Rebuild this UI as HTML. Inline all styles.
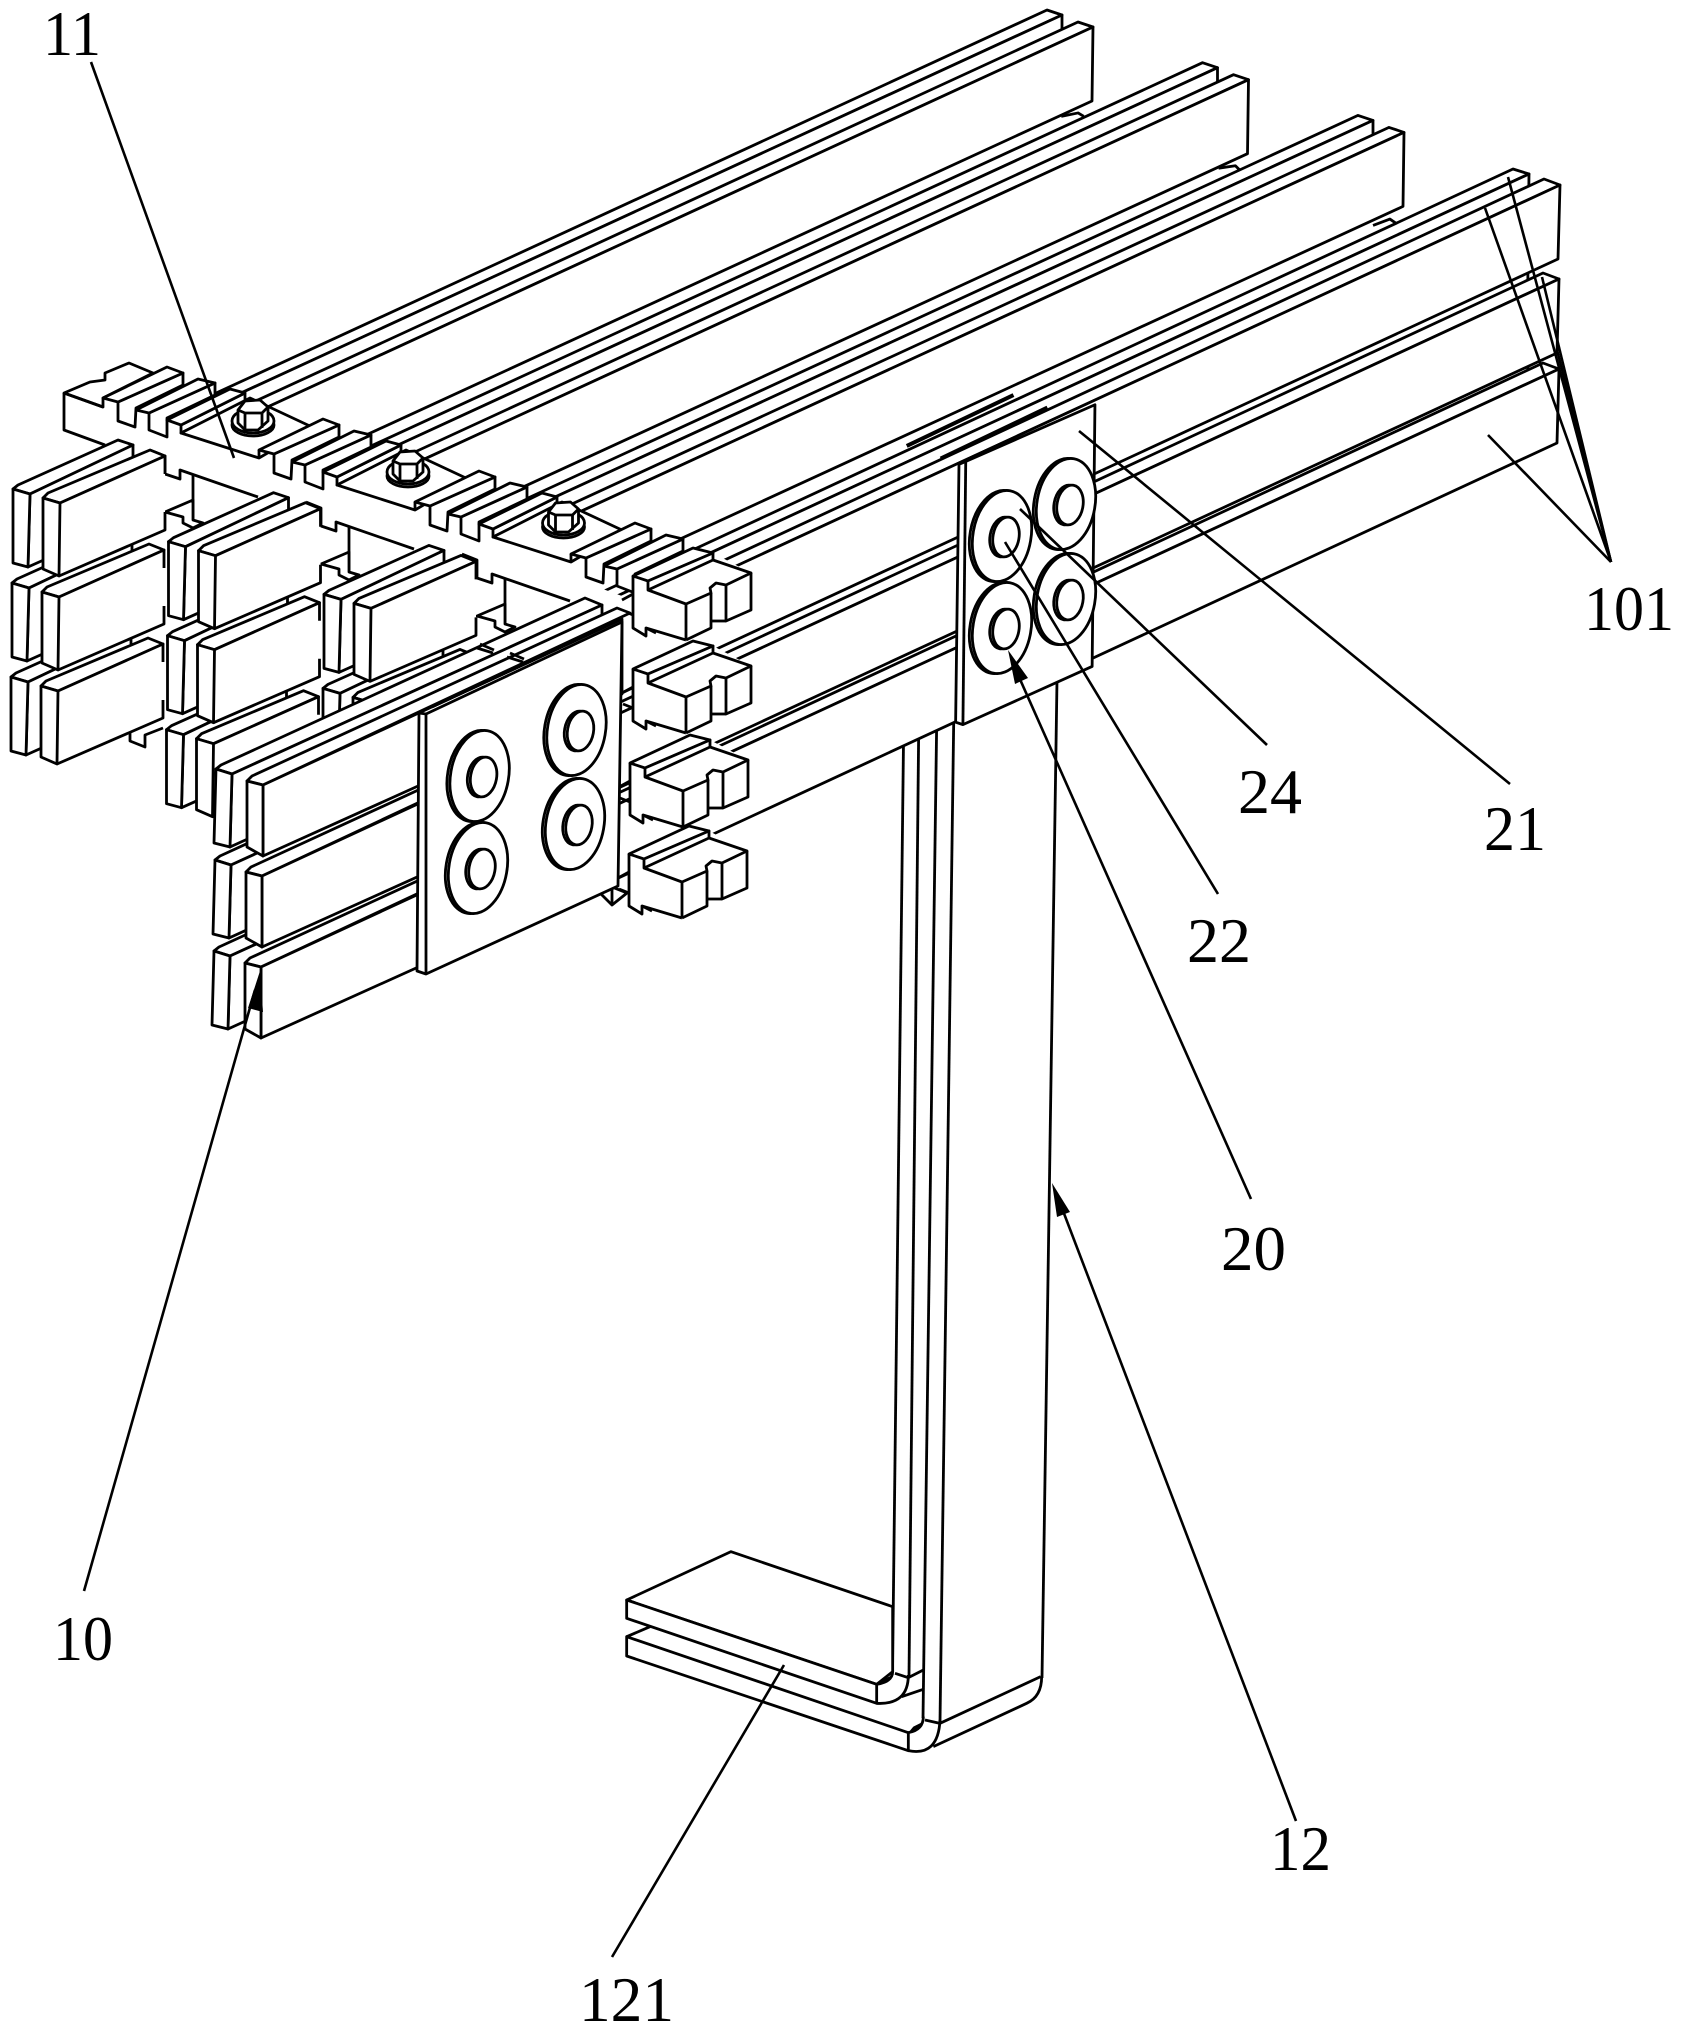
<!DOCTYPE html>
<html><head><meta charset="utf-8"><style>
html,body{margin:0;padding:0;background:#fff}
svg{display:block}
svg *{vector-effect:non-scaling-stroke}
.d{fill:#fff;stroke:#000;stroke-width:2.8;stroke-linejoin:round}
.n{fill:none;stroke:#000;stroke-width:2.8;stroke-linejoin:round}
.l{fill:none;stroke:#000;stroke-width:2.6}
.f{fill:#fff;stroke:none}
text{font-family:"Liberation Serif",serif;font-size:64px;fill:#000}
</style></head><body>
<svg width="1681" height="2030" viewBox="0 0 1681 2030" xmlns="http://www.w3.org/2000/svg">
<defs>
<g id="long">
<polygon class="d" points="188,406 1047,10 1062,15 202,411"/>
<polygon class="d" points="202,411 1062,15 1062,89 295,443"/>
<polygon class="d" points="221,417 1078,22 1093,27 235,422"/>
<polygon class="d" points="235,422 1093,27 1092,101 327,453"/>
</g>
<g id="g4r">
<polygon class="d" points="600,593 1513,169 1529,174 600,604"/>
<polygon class="d" points="600,604 1529,174 1528,248 600,678"/>
<polygon class="d" points="600,618 1544,179 1560,185 600,629"/>
<polygon class="d" points="600,629 1560,185 1558,259 600,703"/>
</g>
<g id="g4l">
<polygon class="d" points="216,769 221,765 585,598 602,605 232,774"/>
<polygon class="d" points="232,774 602,605 602,678 230,847"/>
<polygon class="d" points="216,769 232,774 230,847 214,843"/>
<polygon class="d" points="247,781 252,776 617,608 630,613 263,785"/>
<polygon class="d" points="263,785 622,619 622,694 263,856"/>
<polygon class="d" points="247,781 263,785 263,856 247,847"/>
</g>
<g id="stub">
<polygon class="d" points="13,489 18,485 118,440 133,445 30,494"/>
<polygon class="d" points="30,494 133,445 133,520 28,567"/>
<polygon class="d" points="13,489 30,494 28,567 13,563"/>
<polygon class="d" points="43,498 48,493 150,450 165,456 60,503"/>
<polygon class="f" points="60,503 165,456 165,530 59,576"/>
<polyline class="n" points="60,503 165,456 165,474"/>
<polyline class="n" points="59,576 165,530 165,512"/>
<polygon class="d" points="43,498 60,503 59,576 43,569"/>
</g>
<g id="stubs">
<use href="#stub" transform="translate(-2,188)"/>
<use href="#stub" transform="translate(-1,94)"/>
<use href="#stub"/>
</g>
<g id="ribs">
<polygon class="d" points="118,402 183,373 183,385 136,408 135,427 118,421"/>
<polygon class="d" points="103,398 167,367 183,373 118,402"/>
<polygon class="d" points="149,413 215,383 215,395 167,418 167,437 149,430"/>
<polygon class="d" points="136,410 198,379 215,383 149,413"/>
</g>
<g id="mod">
<use href="#ribs"/>
<polygon class="d" points="181,425 245,393 245,402 181,433"/>
<polygon class="d" points="167,420 230,389 245,393 181,425"/>
<polygon class="d" points="181,433 250,398 312,427 259,458"/>
<polyline class="n" points="259,458 259,450"/>
</g>
<g id="front">
<polyline class="n" points="150,450 165,456 165,474 180,479 180,470 258,497"/>
<line class="n" x1="193" y1="475" x2="193" y2="520"/>
<polygon class="d" points="165,512 193,500 193,520 203,523 193,528 183,523 183,517"/>
</g>
<g id="plug">
<polygon class="f" points="630,763 690,735 710,740 748,760 748,797 723,808 708,815 683,827 643,815 643,823 630,815"/>
<polygon class="d" points="630,763 690,735 710,740 645,768"/>
<polygon class="d" points="645,768 710,740 710,747 645,777"/>
<polyline class="n" points="630,763 630,815 643,823 643,815 683,827"/>
<polyline class="n" points="643,815 653,820"/>
<polyline class="n" points="645,777 683,791 708,780 707,775 713,770 723,772 748,760 710,747"/>
<line class="n" x1="683" y1="791" x2="683" y2="827"/>
<polyline class="n" points="683,827 708,815 708,780"/>
<polyline class="n" points="723,772 723,808 748,797 748,760"/>
<line class="n" x1="708" y1="808" x2="723" y2="808"/>
<polyline class="n" points="619,787 630,781"/>
<polyline class="n" points="620,798 630,802"/>
</g>
<g id="bolt">
<ellipse class="d" cx="253" cy="425" rx="21" ry="11"/>
<ellipse class="d" cx="253" cy="421" rx="21" ry="12"/>
<polygon class="d" points="238,410 245,401 260,400 268,407 268,421 258,430 245,430 238,423"/>
<polyline class="n" points="238,410 245,413 262,413 268,407"/>
<line class="n" x1="245" y1="413" x2="245" y2="430"/>
<line class="n" x1="262" y1="413" x2="262" y2="428"/>
</g>
<g id="washer">
<ellipse class="d" cx="-2" cy="0" rx="29" ry="46" transform="rotate(10 -2 0)"/>
<ellipse class="d" cx="1" cy="0" rx="29" ry="46" transform="rotate(10 1 0)"/>
<ellipse class="d" cx="2" cy="1" rx="13" ry="20" transform="rotate(10 2 1)"/>
<ellipse class="d" cx="5" cy="1" rx="13" ry="20" transform="rotate(10 5 1)"/>
</g>
<clipPath id="cl"><rect x="0" y="0" width="618" height="2030"/></clipPath>
</defs>

<rect width="1681" height="2030" fill="#fff"/>

<!-- long bars -->
<use href="#long"/>
<g transform="translate(800,0) scale(.5618,.4847)"><polyline class="n" points="465,240 495,233 505,240"/></g>
<use href="#long" transform="translate(155.5,52.7)"/>
<g transform="translate(800,0) scale(.5618,.4847)"><polyline class="n" points="745,347 775,342 782,350"/></g>
<use href="#long" transform="translate(311,105.4)"/>
<g transform="translate(800,0) scale(.5618,.4847)"><polyline class="n" points="1020,465 1050,452 1060,460"/></g>

<!-- hanger -->
<polygon class="f" points="904,680 1057,680 1042,1677 892,1670"/>
<line class="n" x1="904" y1="700" x2="892.5" y2="1672"/>
<line class="n" x1="919" y1="700" x2="909" y2="1676"/>
<line class="n" x1="937" y1="700" x2="923" y2="1718"/>
<line class="n" x1="954" y1="700" x2="940" y2="1722"/>
<line class="n" x1="1057" y1="680" x2="1042" y2="1678"/>
<g transform="translate(580,1500) scale(.33333)">
<polygon class="d" points="140,300 453,155 938,320 938,515 890,553"/>
<polygon class="d" points="140,300 890,553 890,610 140,355"/>
<path class="n" d="M890,553 Q938,545 938,515"/>
<path class="n" d="M890,610 Q985,615 985,525"/>
<polyline class="n" points="945,520 985,533 1030,510"/>
<line class="n" x1="965" y1="590" x2="1030" y2="568"/>
<polygon class="d" points="140,410 985,698 985,752 140,468"/>
<line class="n" x1="140" y1="410" x2="210" y2="380"/>
<path class="n" d="M985,698 Q1030,690 1030,650"/>
<path d="M985,698 Q1030,690 1030,665 L1000,680 Z" fill="#000"/>
<path d="M890,553 Q938,545 938,525 L905,540 Z" fill="#000"/>
<path class="n" d="M985,752 Q1075,770 1080,660"/>
<polyline class="n" points="1035,660 1080,670 1382,530"/>
<path class="n" d="M1060,740 L1340,610 Q1385,590 1385,530"/>
</g>

<!-- G4 right part -->
<use href="#g4r" transform="translate(-1,184)"/>
<use href="#g4r" transform="translate(-1,94)"/>
<use href="#g4r"/>

<!-- lower plugs -->
<polygon class="d" points="600,893 612,887 627,893 612,905"/>
<line class="n" x1="612" y1="887" x2="612" y2="905"/>
<use href="#plug" transform="translate(-1,91)"/>
<use href="#plug"/>
<use href="#plug" transform="translate(3,-94)"/>

<!-- beam -->
<polygon class="f" points="64,393 103,407 633,600 650,640 64,430"/>
<polygon class="d" points="64,393 90,382 105,380 105,373 129,363 153,373 103,398 103,407"/>
<polyline class="n" points="64,393 103,407"/>
<polyline class="n" points="64,393 64,430 105,445"/>
<use href="#mod"/>
<use href="#mod" transform="translate(156,52)"/>
<use href="#mod" transform="translate(312,104)"/>
<use href="#ribs" transform="translate(468,156)"/>
<use href="#front"/>
<use href="#front" transform="translate(156,52)"/>
<use href="#front" transform="translate(312,104)"/>
<polyline class="n" points="130,730 130,741 145,747 145,735 163,728"/>
<use href="#plug" transform="translate(3,-187)"/>
<use href="#bolt"/>
<use href="#bolt" transform="translate(155,51)"/>
<use href="#bolt" transform="translate(310.5,102)"/>

<!-- stubs -->
<use href="#stubs"/>
<use href="#stubs" transform="translate(155.5,52.7)"/>
<use href="#stubs" transform="translate(311,105.4)"/>

<!-- G4 left -->
<g clip-path="url(#cl)">
<use href="#g4l" transform="translate(-2,182)"/>
<use href="#g4l" transform="translate(-1,91)"/>
</g>
<use href="#g4l"/>
<line class="n" x1="477" y1="648" x2="493" y2="653"/>
<line class="n" x1="480" y1="644" x2="494" y2="650"/>
<line class="n" x1="507" y1="657" x2="523" y2="662"/>
<line class="n" x1="510" y1="653" x2="524" y2="659"/>

<!-- left plate -->
<polygon class="d" points="419,713 426,714 622,622 618,886 426,974 417,971"/>
<line class="n" x1="426" y1="714" x2="426" y2="974"/>
<line class="n" x1="432" y1="707" x2="620" y2="620"/>
<use href="#washer" transform="translate(478.6,776)"/>
<use href="#washer" transform="translate(575.5,730)"/>
<use href="#washer" transform="translate(477,868)"/>
<use href="#washer" transform="translate(574,824)"/>

<!-- right plate -->
<g transform="translate(800,0) scale(.5618,.4847)">
<line x1="190" y1="920" x2="380" y2="815" stroke="#000" stroke-width="4"/>
<line x1="250" y1="945" x2="440" y2="840" stroke="#000" stroke-width="3"/>
<polygon class="d" points="283,958 295,952 525,835 520,1375 290,1495 277,1490"/>
<line class="n" x1="295" y1="952" x2="290" y2="1495"/>
</g>
<use href="#washer" transform="translate(1065,504)"/>
<use href="#washer" transform="translate(1065,599)"/>
<use href="#washer" transform="translate(1001,536)"/>
<use href="#washer" transform="translate(1001,628)"/>

<!-- leaders -->
<line class="l" x1="91" y1="62" x2="234" y2="458"/>
<line class="l" x1="84" y1="1591" x2="255" y2="990"/>
<polygon points="260,971 263,1012 248,1008" fill="#000"/>
<line class="l" x1="1296" y1="1821" x2="1060" y2="1203"/>
<polygon points="1052,1183 1070,1212 1057,1217" fill="#000"/>
<line class="l" x1="1251" y1="1199" x2="1015" y2="668"/>
<polygon points="1008,650 1028,678 1015,684" fill="#000"/>
<line class="l" x1="1218" y1="894" x2="1005" y2="542"/>
<line class="l" x1="1267" y1="745" x2="1020" y2="509"/>
<line class="l" x1="1510" y1="784" x2="1079" y2="431"/>
<line class="l" x1="1611" y1="562" x2="1508" y2="177"/>
<line class="l" x1="1611" y1="562" x2="1485" y2="208"/>
<line class="l" x1="1611" y1="562" x2="1542" y2="277"/>
<line class="l" x1="1611" y1="562" x2="1557" y2="350"/>
<line class="l" x1="1611" y1="562" x2="1488" y2="435"/>
<line class="l" x1="784" y1="1665" x2="612" y2="1957"/>

<!-- labels -->
<text x="43" y="55" textLength="58" lengthAdjust="spacingAndGlyphs">11</text>
<text x="1584" y="630" textLength="90" lengthAdjust="spacingAndGlyphs">101</text>
<text x="1238" y="813" textLength="64" lengthAdjust="spacingAndGlyphs">24</text>
<text x="1484" y="850" textLength="62" lengthAdjust="spacingAndGlyphs">21</text>
<text x="1187" y="962" textLength="64" lengthAdjust="spacingAndGlyphs">22</text>
<text x="1221" y="1270" textLength="65" lengthAdjust="spacingAndGlyphs">20</text>
<text x="53" y="1660" textLength="60" lengthAdjust="spacingAndGlyphs">10</text>
<text x="1270" y="1870" textLength="61" lengthAdjust="spacingAndGlyphs">12</text>
<text x="579" y="2021" textLength="95" lengthAdjust="spacingAndGlyphs">121</text>
</svg>
</body></html>
